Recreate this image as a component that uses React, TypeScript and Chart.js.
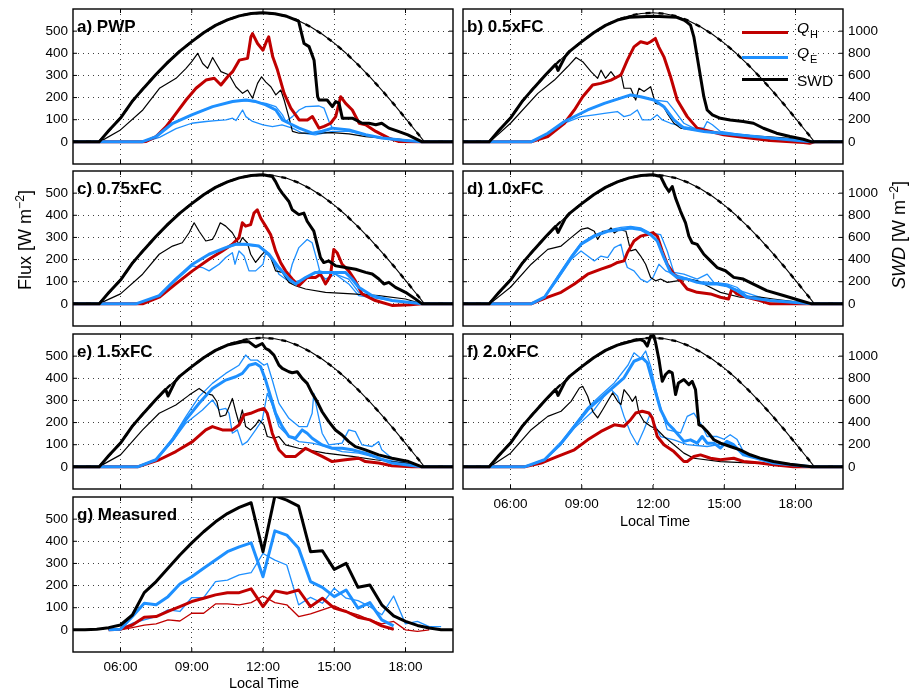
import React, { useEffect, useRef } from 'react';
import { Chart, registerables } from 'chart.js';

Chart.register(...registerables);

type P = [number, number][];

const FONT = '"Liberation Sans", Arial, Helvetica, sans-serif';
const RED = '#c00000';
const BLUE = '#1e90ff';
const BLACK = '#000000';

const X_TICKS = [6, 9, 12, 15, 18];
const FLUX_TICKS = [0, 100, 200, 300, 400, 500];
const SWD_TICKS = [0, 200, 400, 600, 800, 1000];

// clear-sky shortwave down (right axis units, W m-2)
const CLEAR_SKY: P = [[4,0],[5.1,0],[5.5,100],[6,215],[6.5,368],[7,492],[7.5,610],[8,720],[8.5,820],[9,905],[9.5,986],[10,1052],[10.5,1102],[11,1138],[11.5,1160],[12,1166],[12.5,1157],[13,1134],[13.5,1094],[14,1039],[14.5,972],[15,892],[15.5,800],[16,697],[16.5,586],[17,468],[17.5,343],[18,213],[18.5,80],[18.8,0],[20,0]];

// ---- a) PWP
const A_SWD: P = [[4,0],[5.1,0],[5.5,100],[6,215],[6.5,368],[7,492],[7.5,610],[8,720],[8.5,820],[9,905],[9.5,986],[10,1052],[10.5,1102],[11,1138],[11.5,1160],[12,1166],[12.5,1157],[13,1134],[13.5,1090],[13.6,1000],[13.73,888],[13.94,860],[14.15,738],[14.3,408],[14.36,378],[14.7,378],[14.92,318],[15.06,364],[15.2,350],[15.34,214],[15.76,214],[16.18,168],[16.46,168],[16.75,154],[17.0,168],[17.3,124],[17.7,94],[18.1,63],[18.7,0],[20,0]];
const A_BLK: P = [[5.12,0],[6.0,54],[6.94,144],[7.64,242],[8.34,287],[8.76,332],[9.0,362],[9.25,400],[9.46,354],[9.67,332],[9.88,381],[10.02,355],[10.23,317],[10.58,302],[10.86,249],[11.14,219],[11.35,234],[11.56,197],[11.77,264],[11.94,294],[12.12,270],[12.33,249],[12.54,212],[12.75,234],[12.89,189],[13.1,107],[13.24,47],[13.52,39],[14.2,39],[14.92,42],[15.62,36],[16.32,24],[17.7,12],[18.7,0]];
const A_QH: P = [[4,0],[6.9,0],[7.08,2],[7.5,24],[7.92,69],[8.34,129],[8.76,189],[9.18,242],[9.6,279],[9.95,287],[10.23,257],[10.51,294],[10.72,317],[11.0,369],[11.35,377],[11.49,474],[11.56,489],[11.77,444],[12.0,414],[12.14,452],[12.24,474],[12.41,384],[12.61,324],[12.89,219],[13.17,152],[13.52,99],[13.87,99],[14.08,114],[14.36,62],[14.57,70],[14.85,84],[15.06,114],[15.27,204],[15.48,174],[15.76,144],[16.05,84],[16.32,77],[16.75,47],[17.3,17],[17.7,2],[18.7,0],[20,0]];
const A_QE: P = [[4,0],[6.9,0],[7.5,24],[8.2,84],[9.0,122],[9.88,159],[10.72,182],[11.28,189],[11.7,182],[12.12,167],[12.54,144],[12.82,99],[13.1,84],[13.52,62],[14.08,39],[14.5,48],[14.92,62],[15.62,54],[16.32,32],[17.0,17],[18.0,6],[18.7,0],[20,0]];
const A_QE1: P = [[6.9,0],[7.5,24],[8.2,84],[9.0,122],[9.88,159],[10.72,182],[11.28,186],[11.7,180],[12.12,174],[12.54,159],[12.82,122],[12.96,92],[13.24,114],[13.52,144],[13.8,159],[14.36,162],[14.57,152],[14.78,92],[14.92,62],[15.62,54],[16.32,32],[17.0,17],[18.7,0]];
const A_QE2: P = [[7.0,0],[7.64,20],[8.34,60],[9.0,84],[9.6,92],[10.02,96],[10.44,99],[10.72,107],[10.86,96],[11.14,144],[11.28,114],[11.56,92],[12.0,77],[12.4,69],[12.8,77],[13.24,62],[13.66,39],[14.2,32],[14.92,47],[15.62,47],[16.9,17],[18.7,0]];

// ---- b) 0.5xFC
const B_SWD: P = [[4,0],[5.1,0],[5.5,100],[6,215],[6.5,368],[7,492],[7.5,610],[7.9,700],[8.0,645],[8.3,770],[8.5,820],[9,905],[9.5,986],[10,1052],[10.5,1100],[11,1125],[11.5,1130],[12,1135],[12.5,1130],[13,1125],[13.3,1100],[13.44,1080],[13.58,1054],[13.72,949],[13.86,769],[14.0,589],[14.14,408],[14.28,288],[14.5,243],[14.84,213],[15.25,198],[15.8,183],[16.23,168],[16.65,123],[17.2,78],[17.77,48],[18.33,24],[18.68,0],[20,0]];
const B_BLK: P = [[5.13,0],[6.0,84],[7.15,219],[7.85,279],[8.4,339],[8.76,381],[9.04,362],[9.39,317],[9.67,287],[9.81,324],[10.0,287],[10.23,317],[10.44,287],[10.65,309],[10.78,242],[11.06,242],[11.27,189],[11.41,242],[11.62,227],[11.9,249],[12.1,174],[12.4,167],[12.6,129],[12.88,84],[13.16,62],[13.72,54],[14.84,39],[16.23,27],[17.63,17],[18.68,0]];
const B_QH: P = [[4,0],[6.87,0],[7.57,24],[8.27,84],[8.69,144],[9.04,204],[9.46,257],[9.8,264],[10.23,279],[10.65,302],[10.92,369],[11.2,429],[11.48,452],[11.76,444],[11.9,452],[12.1,467],[12.24,429],[12.46,384],[12.74,294],[13.02,189],[13.44,114],[13.86,62],[14.42,47],[14.97,32],[15.8,21],[16.93,6],[18.33,-3],[18.6,-6],[18.8,0],[20,0]];
const B_QE: P = [[4,0],[6.87,0],[7.57,39],[8.27,92],[9.25,144],[9.95,174],[11.06,212],[11.48,204],[12.04,189],[12.46,159],[12.88,99],[13.3,62],[14.14,47],[15.53,32],[16.93,17],[18.68,0],[20,0]];
const B_QE1: P = [[6.87,0],[7.57,39],[8.27,92],[9.25,144],[9.95,174],[11.06,210],[11.48,204],[12.04,189],[12.6,182],[12.88,144],[13.3,84],[13.72,62],[14.14,62],[14.28,92],[14.5,77],[14.84,47],[15.53,36],[16.93,17],[18.68,0]];
const B_QE2: P = [[6.87,0],[7.57,35],[8.27,85],[8.97,114],[9.53,122],[9.95,129],[10.5,137],[10.78,114],[11.06,122],[11.34,144],[11.55,99],[11.9,99],[12.18,122],[12.39,99],[12.74,84],[13.3,69],[13.86,57],[14.84,42],[16.23,25],[18.68,0]];

// ---- c) 0.75xFC
const C_SWD: P = [[4,0],[5.1,0],[5.5,100],[6,215],[6.5,368],[7,492],[7.5,610],[8,720],[8.5,820],[9,905],[9.5,986],[10,1052],[10.5,1102],[11,1138],[11.5,1160],[12,1166],[12.39,1150],[12.53,1104],[12.67,1044],[12.81,1000],[13.09,925],[13.23,850],[13.51,806],[13.72,820],[13.86,746],[14.14,657],[14.28,537],[14.42,418],[14.56,373],[14.77,388],[15.07,343],[15.47,328],[15.9,313],[16.32,284],[16.6,269],[16.88,224],[17.09,179],[17.3,194],[17.58,149],[18.0,104],[18.41,45],[18.7,0],[20,0]];
const C_BLK: P = [[5.08,0],[6.0,45],[6.93,134],[7.63,224],[8.19,261],[8.6,276],[8.89,321],[9.1,366],[9.31,328],[9.59,284],[9.87,291],[9.99,313],[10.2,366],[10.43,351],[10.71,321],[10.99,269],[11.13,299],[11.34,276],[11.48,224],[11.69,187],[11.9,216],[12.11,239],[12.32,209],[12.53,149],[12.81,142],[13.09,97],[13.37,82],[13.79,67],[14.63,52],[15.75,45],[16.87,37],[18.0,22],[18.7,0]];
const C_QH: P = [[4,0],[6.93,0],[7.63,30],[8.33,90],[9.03,149],[9.73,201],[10.29,239],[10.71,269],[10.99,299],[11.13,366],[11.27,351],[11.48,358],[11.62,410],[11.76,425],[11.9,388],[12.11,351],[12.32,313],[12.53,239],[12.74,187],[12.95,149],[13.23,112],[13.51,82],[13.86,119],[14.21,119],[14.42,134],[14.63,90],[14.84,127],[14.98,246],[15.12,231],[15.33,179],[15.61,149],[15.89,104],[16.17,45],[16.73,15],[17.43,-7],[18.2,-4],[18.7,0],[20,0]];
const C_QE: P = [[4,0],[6.65,0],[7.63,37],[8.33,112],[9.03,179],[9.73,224],[10.43,254],[10.85,269],[11.27,269],[11.83,261],[12.25,224],[12.67,164],[13.09,112],[13.37,90],[13.79,119],[14.21,142],[14.63,142],[15.05,142],[15.47,142],[15.75,112],[16.03,75],[16.6,37],[17.43,15],[18.7,0],[20,0]];
const C_QE1: P = [[6.65,0],[7.63,37],[8.33,112],[9.03,179],[9.73,224],[10.43,254],[10.85,266],[11.27,266],[11.83,258],[12.25,224],[12.67,157],[13.09,119],[13.23,179],[13.51,254],[13.86,291],[14.07,276],[14.28,194],[14.42,134],[14.63,112],[15.05,134],[15.61,90],[16.03,37],[17.43,15],[18.7,0]];
const C_QE2: P = [[6.65,0],[7.63,35],[8.33,105],[9.03,172],[9.45,164],[9.73,149],[10.15,179],[10.43,209],[10.71,231],[10.82,179],[10.99,239],[11.2,216],[11.41,149],[11.69,149],[12.0,179],[12.11,231],[12.39,201],[12.67,134],[12.95,112],[13.23,97],[13.79,112],[14.35,149],[15.05,134],[15.61,112],[16.03,52],[17.43,15],[18.7,0]];

// ---- d) 1.0xFC
const D_SWD: P = [[4,0],[5.1,0],[5.5,100],[6,215],[6.5,368],[7,492],[7.5,610],[7.9,700],[8.0,645],[8.3,770],[8.5,820],[9,905],[9.5,986],[10,1052],[10.5,1102],[11,1138],[11.5,1160],[12,1166],[12.32,1150],[12.53,1060],[12.67,1015],[12.81,1060],[12.95,955],[13.16,836],[13.37,731],[13.51,612],[13.65,552],[13.86,537],[14.14,448],[14.42,388],[14.7,328],[15.05,299],[15.4,239],[15.8,224],[16.23,179],[16.79,119],[17.49,75],[18.19,30],[18.68,0],[20,0]];
const D_BLK: P = [[5.13,0],[6.0,75],[6.87,179],[7.57,246],[8.13,261],[8.55,299],[8.97,336],[9.25,343],[9.53,328],[9.67,291],[9.88,328],[10.09,328],[10.23,343],[10.37,320],[10.58,336],[10.86,328],[11.06,239],[11.27,246],[11.48,216],[11.69,179],[11.9,119],[12.11,104],[12.32,112],[12.6,97],[13.02,104],[13.44,112],[13.86,104],[14.28,82],[14.84,52],[15.67,30],[16.5,30],[17.07,22],[18.68,0]];
const D_QH: P = [[4,0],[6.87,0],[7.57,30],[8.13,52],[8.69,90],[9.25,134],[9.81,157],[10.23,172],[10.51,187],[10.78,194],[10.92,231],[11.2,284],[11.48,306],[11.76,313],[12.0,321],[12.18,306],[12.39,239],[12.6,179],[12.88,134],[13.16,104],[13.44,67],[13.86,52],[14.42,45],[14.84,30],[15.18,22],[15.32,67],[15.53,45],[15.95,30],[16.5,15],[16.93,0],[20,0]];
const D_QE: P = [[4,0],[6.87,0],[7.43,30],[7.99,119],[8.55,209],[8.97,269],[9.53,306],[10.09,328],[10.65,336],[11.06,343],[11.48,336],[11.9,313],[12.18,284],[12.46,209],[12.74,142],[13.02,119],[13.44,112],[13.86,97],[14.28,90],[14.7,90],[15.11,82],[15.53,60],[15.95,30],[16.93,15],[18.68,0],[20,0]];
const D_QE1: P = [[6.87,0],[7.43,30],[7.99,125],[8.55,215],[8.97,275],[9.53,312],[10.09,333],[10.65,345],[11.06,350],[11.48,343],[11.9,320],[12.32,313],[12.6,239],[12.88,142],[13.3,134],[13.86,112],[14.28,134],[14.56,97],[15.11,90],[15.53,75],[15.95,37],[16.93,15],[18.68,0]];
const D_QE2: P = [[6.87,0],[7.43,28],[7.99,110],[8.55,200],[8.97,239],[9.53,194],[9.81,216],[10.09,209],[10.37,254],[10.65,269],[10.78,209],[10.92,164],[11.2,149],[11.48,112],[11.76,97],[12.0,119],[12.25,179],[12.53,149],[12.88,134],[13.44,115],[14.0,100],[14.7,95],[15.5,65],[16.93,15],[18.68,0]];

// ---- e) 1.5xFC
const E_SWD: P = [[4,0],[5.1,0],[5.5,100],[6,215],[6.5,368],[7,492],[7.5,610],[7.9,700],[8.0,640],[8.3,770],[8.5,820],[9,905],[9.5,986],[10,1052],[10.5,1100],[11.13,1130],[11.41,1129],[11.69,1084],[11.97,1114],[12.11,1069],[12.25,1054],[12.46,1009],[12.67,919],[12.81,889],[13.09,859],[13.23,850],[13.44,859],[13.65,799],[13.86,754],[14.07,664],[14.28,589],[14.49,498],[14.77,408],[15.05,333],[15.33,288],[15.61,228],[15.89,183],[16.31,153],[16.87,108],[17.43,78],[18.13,48],[18.69,0],[20,0]];
const E_BLK: P = [[5.08,0],[6.0,54],[6.93,167],[7.63,242],[8.33,279],[8.89,324],[9.31,354],[9.59,332],[9.87,324],[10.06,294],[10.2,227],[10.43,234],[10.57,270],[10.71,309],[10.85,250],[10.99,197],[11.13,257],[11.27,182],[11.48,167],[11.69,189],[11.83,212],[12.04,189],[12.18,137],[12.46,129],[12.67,137],[12.95,99],[13.51,84],[14.63,62],[15.75,47],[16.73,32],[18.0,17],[18.69,0]];
const E_QH: P = [[4,0],[6.72,0],[7.63,32],[8.33,69],[9.03,114],[9.59,167],[9.87,182],[10.29,167],[10.71,167],[10.99,189],[11.2,234],[11.48,242],[11.83,257],[12.04,264],[12.18,242],[12.39,152],[12.67,77],[12.95,47],[13.37,47],[13.79,84],[14.07,69],[14.49,47],[14.91,24],[15.47,32],[16.03,39],[16.31,24],[16.87,17],[17.43,5],[18.27,0],[20,0]];
const E_QE: P = [[4,0],[6.72,0],[7.49,32],[8.19,122],[8.75,212],[9.31,287],[9.87,354],[10.43,392],[10.85,407],[11.13,422],[11.41,459],[11.69,467],[11.9,452],[12.11,392],[12.32,317],[12.53,242],[12.81,182],[13.09,137],[13.37,129],[13.65,167],[13.86,152],[14.07,129],[14.49,99],[14.91,84],[15.33,84],[15.75,77],[16.31,62],[16.87,39],[17.43,17],[18.69,0],[20,0]];
const E_QE1: P = [[6.72,0],[7.49,34],[8.19,130],[8.75,227],[9.31,317],[9.87,377],[10.43,422],[10.99,459],[11.27,505],[11.48,482],[11.76,482],[12.04,459],[12.18,467],[12.39,392],[12.67,287],[13.09,219],[13.51,182],[13.86,182],[14.07,242],[14.14,332],[14.28,257],[14.49,152],[14.77,99],[15.33,107],[15.61,167],[15.89,159],[16.17,99],[16.59,92],[16.87,114],[17.0,77],[17.43,39],[18.0,17],[18.69,0]];
const E_QE2: P = [[6.72,0],[7.49,30],[8.19,115],[8.75,197],[9.45,257],[9.87,302],[10.15,257],[10.43,264],[10.57,242],[10.71,152],[10.92,167],[11.13,99],[11.34,114],[11.69,167],[11.97,212],[12.18,332],[12.39,279],[12.67,182],[13.09,137],[13.51,114],[14.07,107],[14.63,92],[15.33,69],[16.03,62],[16.87,39],[18.69,0]];

// ---- f) 2.0xFC
const F_SWD: P = [[4,0],[5.1,0],[5.5,100],[6,215],[6.5,368],[7,492],[7.5,610],[7.9,700],[8.0,645],[8.3,770],[8.5,820],[9,905],[9.5,986],[10,1052],[10.5,1100],[11.0,1130],[11.2,1140],[11.48,1150],[11.62,1136],[11.76,1091],[11.9,1181],[12.04,1181],[12.11,1121],[12.25,970],[12.39,773],[12.53,834],[12.67,864],[12.81,849],[12.95,653],[13.07,758],[13.3,789],[13.51,743],[13.65,773],[13.79,698],[13.93,381],[14.07,366],[14.28,320],[14.56,245],[14.84,215],[15.25,184],[15.67,154],[16.09,109],[16.51,79],[17.07,48],[17.77,24],[18.68,0],[20,0]];
const F_BLK: P = [[5.13,0],[6.0,62],[6.87,168],[7.57,228],[8.13,251],[8.55,296],[8.9,356],[9.04,364],[9.25,319],[9.46,251],[9.67,221],[9.88,258],[10.09,296],[10.3,334],[10.51,296],[10.65,281],[10.78,349],[11.0,319],[11.13,296],[11.27,319],[11.41,243],[11.62,205],[11.9,183],[12.18,168],[12.46,137],[12.88,100],[13.3,62],[13.72,39],[14.84,24],[16.23,17],[17.63,9],[18.68,0]];
const F_QH: P = [[4,0],[6.59,0],[7.29,17],[7.99,47],[8.69,77],[9.25,122],[9.81,160],[10.37,190],[10.78,183],[11.06,213],[11.27,243],[11.55,251],[11.83,243],[11.97,221],[12.18,137],[12.46,100],[12.88,69],[13.3,24],[13.44,24],[13.72,47],[14.0,54],[14.42,39],[14.84,32],[15.4,39],[15.81,24],[16.51,17],[17.07,9],[17.91,0],[20,0]];
const F_QE: P = [[4,0],[6.59,0],[7.43,32],[8.13,107],[8.69,183],[9.25,258],[9.81,311],[10.37,364],[10.78,402],[11.2,477],[11.55,492],[11.76,470],[12.04,364],[12.32,258],[12.6,198],[12.88,168],[13.3,115],[13.58,122],[13.86,107],[14.07,137],[14.28,107],[14.56,107],[14.84,85],[15.11,115],[15.39,100],[15.81,54],[16.37,39],[17.07,17],[18.68,0],[20,0]];
const F_QE1: P = [[6.59,0],[7.43,34],[8.13,112],[8.69,190],[9.25,268],[9.81,325],[10.37,379],[10.95,460],[11.2,515],[11.48,490],[11.69,523],[11.9,455],[12.18,319],[12.6,168],[13.16,153],[13.44,228],[13.72,243],[14.0,198],[14.28,137],[14.7,137],[14.98,125],[15.25,145],[15.53,125],[15.81,69],[16.37,39],[17.07,17],[18.68,0]];
const F_QE2: P = [[6.59,0],[7.43,30],[8.13,100],[8.69,175],[9.53,258],[9.95,319],[10.23,349],[10.51,319],[10.78,228],[11.06,153],[11.34,100],[11.62,168],[11.9,243],[12.04,198],[12.32,137],[12.88,122],[13.44,100],[14.28,92],[15.11,107],[15.81,62],[17.07,17],[18.68,0]];

// ---- g) Measured (half-hourly)
const G_SWD: P = [[4,0],[4.5,0],[5,6],[5.5,20],[6,44],[6.5,134],[7,336],[7.5,436],[8,556],[8.5,676],[9,786],[9.5,886],[10,976],[10.5,1050],[11,1106],[11.5,1148],[12,706],[12.5,1210],[13,1172],[13.5,1118],[14,706],[14.5,714],[15,546],[15.5,600],[16,384],[16.5,406],[17,226],[17.5,126],[18,76],[18.5,40],[19,16],[19.5,0],[20,0]];
const G_QE: P = [[5.5,0],[6,3],[6.5,60],[7,120],[7.5,113],[8,150],[8.5,207],[9,240],[9.5,278],[10,315],[10.5,353],[11,375],[11.5,393],[12,240],[12.5,447],[13,428],[13.5,368],[14,218],[14.5,192],[15,150],[15.5,180],[16,98],[16.5,123],[17,45],[17.5,18]];
const G_QE_THIN: P = [[5.5,0],[6,3],[6.5,30],[7,45],[7.5,60],[8,90],[8.5,83],[9,146],[9.5,146],[10,218],[10.5,225],[11,248],[11.5,258],[12,345],[12.5,315],[13,293],[13.5,113],[14,147],[14.5,120],[15,188],[15.5,143],[16,132],[16.5,105],[17,68],[17.5,153],[18,27],[18.5,38],[19,15],[19.5,15]];
const G_QH: P = [[5.5,0],[6,3],[6.5,22],[7,57],[7.5,60],[8,83],[8.5,105],[9,128],[9.5,143],[10,158],[10.5,168],[11,168],[11.5,185],[12,105],[12.5,176],[13,165],[13.5,180],[14,105],[14.5,143],[15,98],[15.5,83],[16,57],[16.5,45],[17,18],[17.5,3]];
const G_QH_THIN: P = [[5.5,0],[6,0],[6.5,10],[7,21],[7.5,27],[8,45],[8.5,40],[9,75],[9.5,75],[10,117],[10.5,117],[11,113],[11.5,123],[12,153],[12.5,123],[13,113],[13.5,60],[14,72],[14.5,90],[15,108],[15.5,83],[16,68],[16.5,45],[17,27],[17.5,38],[18,0],[18.5,-7],[19,0]];

interface Spec {
  id: string;
  label: string;
  left: number;
  top: number;
  showLeft: boolean;
  showRight: boolean;
  showX: boolean;
  swd: P;
  clear: boolean;
  blk: P | null;
  qh: P;
  qe: P;
  qeThin: P[];
  qhThin: P[];
}

const COL_L = [73, 463];
const ROW_T = [9, 171, 334, 497];
const PW = 380;
const PH = 155;

const PANELS: Spec[] = [
  { id: 'a', label: 'a) PWP', left: COL_L[0], top: ROW_T[0], showLeft: true, showRight: false, showX: false, swd: A_SWD, clear: true, blk: A_BLK, qh: A_QH, qe: A_QE, qeThin: [A_QE1, A_QE2], qhThin: [] },
  { id: 'b', label: 'b) 0.5xFC', left: COL_L[1], top: ROW_T[0], showLeft: false, showRight: true, showX: false, swd: B_SWD, clear: true, blk: B_BLK, qh: B_QH, qe: B_QE, qeThin: [B_QE1, B_QE2], qhThin: [] },
  { id: 'c', label: 'c) 0.75xFC', left: COL_L[0], top: ROW_T[1], showLeft: true, showRight: false, showX: false, swd: C_SWD, clear: true, blk: C_BLK, qh: C_QH, qe: C_QE, qeThin: [C_QE1, C_QE2], qhThin: [] },
  { id: 'd', label: 'd) 1.0xFC', left: COL_L[1], top: ROW_T[1], showLeft: false, showRight: true, showX: false, swd: D_SWD, clear: true, blk: D_BLK, qh: D_QH, qe: D_QE, qeThin: [D_QE1, D_QE2], qhThin: [] },
  { id: 'e', label: 'e) 1.5xFC', left: COL_L[0], top: ROW_T[2], showLeft: true, showRight: false, showX: false, swd: E_SWD, clear: true, blk: E_BLK, qh: E_QH, qe: E_QE, qeThin: [E_QE1, E_QE2], qhThin: [] },
  { id: 'f', label: 'f) 2.0xFC', left: COL_L[1], top: ROW_T[2], showLeft: false, showRight: true, showX: true, swd: F_SWD, clear: true, blk: F_BLK, qh: F_QH, qe: F_QE, qeThin: [F_QE1, F_QE2], qhThin: [] },
  { id: 'g', label: 'g) Measured', left: COL_L[0], top: ROW_T[3], showLeft: true, showRight: false, showX: true, swd: G_SWD, clear: false, blk: null, qh: G_QH, qe: G_QE, qeThin: [G_QE_THIN], qhThin: [G_QH_THIN] },
];

const PAD_T = 14;
const X_H = 34;

function ds(pts: P, color: string, width: number, axis: string, dash: number[] = []) {
  return {
    data: pts.map(([x, y]) => ({ x, y })),
    borderColor: color,
    backgroundColor: color,
    borderWidth: width,
    borderDash: dash,
    yAxisID: axis,
    pointRadius: 0,
    pointHoverRadius: 0,
    fill: false,
    tension: 0,
    borderJoinStyle: 'round' as const,
    borderCapStyle: 'butt' as const,
  };
}

const boxPlugin = {
  id: 'matlabBox',
  afterDatasetsDraw(chart: any) {
    const { ctx, chartArea: a, scales } = chart;
    ctx.save();
    ctx.strokeStyle = '#000';
    ctx.setLineDash([]);
    ctx.lineWidth = 1;
    const seg = (x1: number, y1: number, x2: number, y2: number) => {
      ctx.beginPath();
      ctx.moveTo(x1, y1);
      ctx.lineTo(x2, y2);
      ctx.stroke();
    };
    X_TICKS.forEach((v) => {
      const px = scales.x.getPixelForValue(v);
      seg(px, a.bottom, px, a.bottom - 4);
      seg(px, a.top, px, a.top + 4);
    });
    FLUX_TICKS.forEach((v) => {
      const py = scales.y.getPixelForValue(v);
      seg(a.left, py, a.left + 4, py);
      seg(a.right, py, a.right - 4, py);
    });
    ctx.lineWidth = 1.4;
    ctx.strokeRect(a.left, a.top, a.right - a.left, a.bottom - a.top);
    ctx.restore();
  },
};

function Panel({ spec }: { spec: Spec }) {
  const ref = useRef<HTMLCanvasElement>(null);
  const lw = spec.showLeft ? 73 : 10;
  const rw = spec.showRight ? 60 : 50;
  const cw = lw + PW + rw;
  const chh = PAD_T + PH + X_H;

  useEffect(() => {
    // first dataset is drawn on top
    const datasets: any[] = [];
    datasets.push(ds(spec.swd, BLACK, 3, 'y2'));
    if (spec.clear) {
      datasets.push(ds(CLEAR_SKY, BLACK, 2.4, 'y2', [5, 8]));
      datasets.push(ds(CLEAR_SKY, BLACK, 1.1, 'y2'));
    }
    datasets.push(ds(spec.qe, BLUE, 3, 'y'));
    datasets.push(ds(spec.qh, RED, 3, 'y'));
    if (spec.blk) datasets.push(ds(spec.blk, BLACK, 1.2, 'y'));
    spec.qeThin.forEach((p) => datasets.push(ds(p, BLUE, 1.3, 'y')));
    spec.qhThin.forEach((p) => datasets.push(ds(p, RED, 1.3, 'y')));

    const tickFont = { family: FONT, size: 13.5 };
    const chart = new Chart(ref.current as HTMLCanvasElement, {
      type: 'line',
      data: { datasets },
      plugins: [boxPlugin],
      options: {
        animation: false,
        responsive: false,
        maintainAspectRatio: false,
        devicePixelRatio: 1,
        events: [],
        layout: { padding: { top: PAD_T, left: 0, right: 0, bottom: 0 } },
        plugins: { legend: { display: false }, tooltip: { enabled: false }, title: { display: false } },
        scales: {
          x: {
            type: 'linear',
            min: 4,
            max: 20,
            afterBuildTicks: (s: any) => { s.ticks = X_TICKS.map((value) => ({ value })); },
            afterFit: (s: any) => { s.height = X_H; },
            grid: { color: 'rgba(0,0,0,0.75)', lineWidth: 1, drawTicks: false },
            border: { display: false, dash: [1, 4] },
            ticks: {
              display: spec.showX,
              padding: 7,
              color: '#000',
              font: { family: FONT, size: 13.5 },
              maxRotation: 0,
              autoSkip: false,
              callback: (v: any) => `${String(v).padStart(2, '0')}:00`,
            },
          },
          y: {
            type: 'linear',
            position: 'left',
            min: -100,
            max: 600,
            afterBuildTicks: (s: any) => { s.ticks = FLUX_TICKS.map((value) => ({ value })); },
            afterFit: (s: any) => { s.width = lw; },
            grid: { color: 'rgba(0,0,0,0.75)', lineWidth: 1, drawTicks: false },
            border: { display: false, dash: [1, 4] },
            ticks: { display: spec.showLeft, padding: 5, color: '#000', font: tickFont, autoSkip: false, callback: (v: any) => String(v) },
          },
          y2: {
            type: 'linear',
            position: 'right',
            min: -200,
            max: 1200,
            afterBuildTicks: (s: any) => { s.ticks = SWD_TICKS.map((value) => ({ value })); },
            afterFit: (s: any) => { s.width = rw; },
            grid: { display: false, drawTicks: false },
            border: { display: false },
            ticks: { display: spec.showRight, padding: 5, color: '#000', font: tickFont, autoSkip: false, callback: (v: any) => String(v) },
          },
        },
      } as any,
    });
    return () => chart.destroy();
  }, [spec]);

  return (
    <canvas
      ref={ref}
      width={cw}
      height={chh}
      style={{ position: 'absolute', left: spec.left - lw, top: spec.top - PAD_T, width: cw, height: chh }}
    />
  );
}

const sup = { fontSize: '0.68em', position: 'relative' as const, top: '-0.55em' };

export default function App() {
  return (
    <div style={{ position: 'absolute', left: 0, top: 0, width: 911, height: 690, background: '#fff', fontFamily: FONT, color: '#000', overflow: 'hidden' }}>
      {PANELS.map((p) => <Panel key={p.id} spec={p} />)}
      {PANELS.map((p) => (
        <div key={'lab' + p.id} style={{ position: 'absolute', left: p.left + 4, top: p.top + 9, fontWeight: 'bold', fontSize: 17, lineHeight: '17px', whiteSpace: 'nowrap' }}>
          {p.label}
        </div>
      ))}

      {/* legend in panel b */}
      <div style={{ position: 'absolute', left: 742, top: 30.5, width: 46, height: 3, background: RED }} />
      <div style={{ position: 'absolute', left: 742, top: 55.5, width: 46, height: 3, background: BLUE }} />
      <div style={{ position: 'absolute', left: 742, top: 77.5, width: 46, height: 3, background: BLACK }} />
      <div style={{ position: 'absolute', left: 797, top: 19.5, fontSize: 15.5, lineHeight: '15px', whiteSpace: 'nowrap' }}>
        <i>Q</i><span style={{ fontSize: 11, position: 'relative', top: 5, left: 1 }}>H</span>
      </div>
      <div style={{ position: 'absolute', left: 797, top: 44.5, fontSize: 15.5, lineHeight: '15px', whiteSpace: 'nowrap' }}>
        <i>Q</i><span style={{ fontSize: 11, position: 'relative', top: 5, left: 1 }}>E</span>
      </div>
      <div style={{ position: 'absolute', left: 797, top: 72.5, fontSize: 15.5, lineHeight: '15px', whiteSpace: 'nowrap' }}>SWD</div>

      {/* axis titles */}
      <div style={{ position: 'absolute', left: 26, top: 240, transform: 'translate(-50%, -50%) rotate(-90deg)', fontSize: 18, lineHeight: '18px', whiteSpace: 'nowrap' }}>
        Flux [W m<span style={sup}>−2</span>]
      </div>
      <div style={{ position: 'absolute', left: 900, top: 235, transform: 'translate(-50%, -50%) rotate(-90deg)', fontSize: 18, lineHeight: '18px', whiteSpace: 'nowrap' }}>
        <i>SWD</i> [W m<span style={sup}>−2</span>]
      </div>
      <div style={{ position: 'absolute', left: 655, top: 521, transform: 'translate(-50%, -50%)', fontSize: 14.5, lineHeight: '15px', whiteSpace: 'nowrap' }}>
        Local Time
      </div>
      <div style={{ position: 'absolute', left: 264, top: 683, transform: 'translate(-50%, -50%)', fontSize: 14.5, lineHeight: '15px', whiteSpace: 'nowrap' }}>
        Local Time
      </div>
    </div>
  );
}
